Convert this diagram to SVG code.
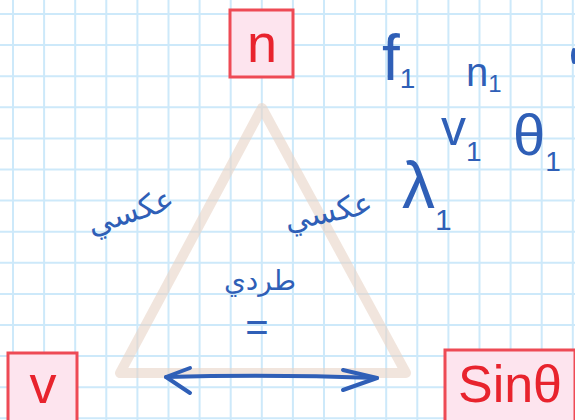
<svg xmlns="http://www.w3.org/2000/svg" width="575" height="420" viewBox="0 0 575 420">
<style>
.grid{stroke:#cde9fa;stroke-width:2;fill:none}
.box{fill:#fde4ee;stroke:#ee4a55;stroke-width:3}
.red{font-family:"Liberation Sans",Arial,sans-serif;fill:#e8232d}
.blue{font-family:"Liberation Sans",Arial,sans-serif;fill:#2f5fb7}
.ar{font-family:"DejaVu Sans",sans-serif;fill:#2f5fb7}
.tri{fill:none;stroke:#e8d3c6;stroke-opacity:0.6;stroke-width:10;stroke-linejoin:round;stroke-linecap:round}
.ink{fill:none;stroke:#2f5fb7;stroke-width:4;stroke-linecap:round;stroke-linejoin:round}
</style>
<rect width="575" height="420" fill="#ffffff"/>
<path class="grid" d="M13 0V420M44.1 0V420M75.2 0V420M106.3 0V420M137.4 0V420M168.5 0V420M199.6 0V420M230.7 0V420M261.8 0V420M292.9 0V420M324 0V420M355.1 0V420M386.2 0V420M417.3 0V420M448.4 0V420M479.5 0V420M510.6 0V420M541.7 0V420M572.8 0V420M0 14H575M0 45.1H575M0 76.2H575M0 107.3H575M0 138.4H575M0 169.5H575M0 200.6H575M0 231.7H575M0 262.8H575M0 293.9H575M0 325H575M0 356.1H575M0 387.2H575M0 418.3H575"/>
<g id="connectors">
<polygon class="tri" points="262,108 120,373 406,373"/>
<path class="ink" d="M166 377 Q270 374 377 378"/>
<path class="ink" d="M190 368 L166 377 L190 393"/>
<path class="ink" d="M343 370 L377 378 L343 390"/>
</g>
<g id="node-n">
<rect class="box" x="230" y="10" width="63" height="67"/>
<text class="red" x="262" y="62" font-size="54" text-anchor="middle">n</text>
</g>
<g id="node-v">
<rect class="box" x="8" y="353" width="69" height="70"/>
<text class="red" x="43" y="403" font-size="54" text-anchor="middle">v</text>
</g>
<g id="node-sin">
<rect class="box" x="445" y="350" width="130" height="72"/>
<text class="red" x="510" y="402" font-size="52" text-anchor="middle">Sinθ</text>
</g>
<g id="labels">
<text class="ar" x="130" y="222" font-size="31" text-anchor="middle" transform="rotate(-18 130 210)">عكسي</text>
<text class="ar" x="328" y="222" font-size="31" text-anchor="middle" transform="rotate(-12 328 210)">عكسي</text>
<text class="ar" x="260" y="290" font-size="28" text-anchor="middle">طردي</text>
<text class="blue" x="257" y="341" font-size="40" text-anchor="middle">=</text>
<text class="blue" x="382" y="80" font-size="64">f<tspan font-size="28" dy="8">1</tspan></text>
<text class="blue" x="466" y="86" font-size="40">n<tspan font-size="24" dy="6">1</tspan></text>
<text class="blue" x="441" y="145" font-size="50">v<tspan font-size="28" dy="16">1</tspan></text>
<text class="blue" x="513" y="155" font-size="58">θ<tspan font-size="28" dy="16">1</tspan></text>
<text class="blue" x="402" y="208" font-size="66">λ<tspan font-size="30" dy="22">1</tspan></text>
<path class="ink" d="M574 50 Q572 55 574 62"/>
</g>
</svg>
